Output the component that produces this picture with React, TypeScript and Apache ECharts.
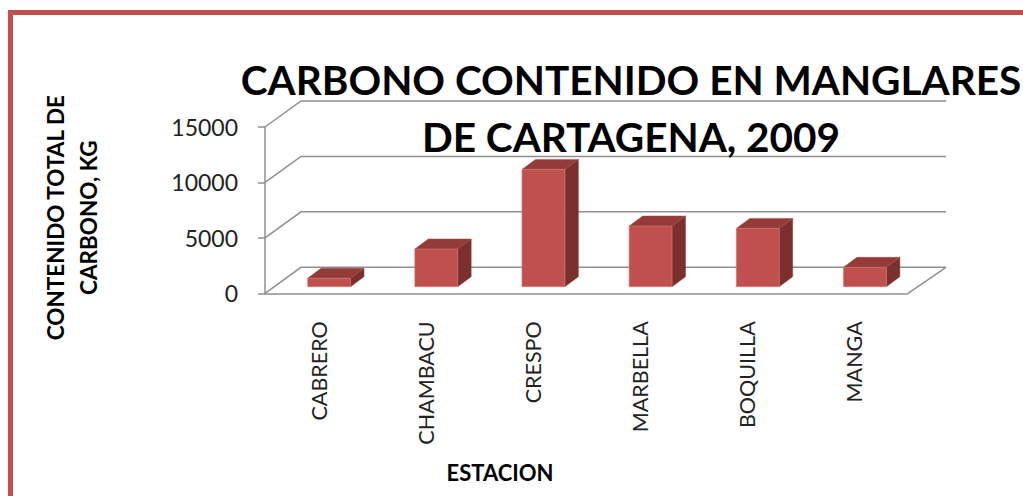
import React, { useEffect, useRef } from "react";
import * as echarts from "echarts";

const CATEGORIES = ["CABRERO", "CHAMBACU", "CRESPO", "MARBELLA", "BOQUILLA", "MANGA"];
const CARBON_KG = [760, 3400, 10580, 5470, 5260, 1750];
const Y_TICKS = [0, 5000, 10000, 15000];
const TITLE = "CARBONO CONTENIDO EN MANGLARES\nDE CARTAGENA, 2009";
const Y_NAME = "CONTENIDO TOTAL DE\nCARBONO, KG";
const X_NAME = "ESTACION";

// 3D look constants (pixels)
const WALL_DX = 36;
const WALL_DY = 26;
const BAR_FRONT_DX = 10.5;
const BAR_FRONT_DY = 6.6;
const BAR_DEPTH_DX = 13.5;
const BAR_DEPTH_DY = 10;
const BAR_RATIO = 0.4;
const GRID_COLOR = "#8f8f8f";

export default function App() {
  const ref = useRef<HTMLDivElement>(null);
  useEffect(() => {
    document.body.style.margin = "0";
    const chart = echarts.init(ref.current!, undefined, { renderer: "svg" });
    const n = CATEGORIES.length;
    chart.setOption({
      animation: false,
      backgroundColor: "#ffffff",
      title: {
        text: TITLE,
        left: 631,
        top: 51,
        padding: 0,
        textAlign: "center",
        textStyle: {
          fontFamily: "Lato",
          fontWeight: "bold",
          fontSize: 40.5,
          lineHeight: 57,
          color: "#000000",
        },
      },
      graphic: [
        {
          type: "rect",
          shape: { x: 10.5, y: 12.5, width: 1200, height: 700 },
          style: { fill: "none", stroke: "#C0504D", lineWidth: 5 },
          silent: true,
        },
      ],
      grid: { left: 265, top: 127, width: 643, height: 166.3 },
      xAxis: {
        type: "category",
        data: CATEGORIES,
        name: X_NAME,
        nameLocation: "middle",
        nameGap: 168,
        nameTextStyle: {
          fontFamily: "Lato",
          fontWeight: "bold",
          fontSize: 22,
          color: "#000000",
          padding: [0, 173, 0, 0],
        },
        axisLine: { lineStyle: { color: GRID_COLOR, width: 1.5 } },
        axisTick: { length: 9, interval: 0, lineStyle: { color: GRID_COLOR, width: 1.5 } },
        axisLabel: {
          rotate: 90,
          margin: 28,
          interval: 0,
          fontFamily: "Lato",
          fontSize: 21.5,
          color: "#222222",
        },
        splitLine: { show: false },
      },
      yAxis: {
        type: "value",
        min: 0,
        max: 15000,
        interval: 5000,
        name: Y_NAME,
        nameLocation: "middle",
        nameRotate: 90,
        nameGap: 160,
        nameTextStyle: {
          fontFamily: "Lato",
          fontWeight: "bold",
          fontSize: 22.5,
          lineHeight: 33,
          color: "#000000",
          padding: [0, 15, 0, 0],
        },
        axisLine: { show: true, lineStyle: { color: GRID_COLOR, width: 1.5 } },
        axisTick: { show: true, length: 7, lineStyle: { color: GRID_COLOR, width: 1.5 } },
        axisLabel: {
          margin: 27,
          fontFamily: "Lato",
          fontSize: 23,
          color: "#222222",
          formatter: (v: number) => String(v),
        },
        splitLine: { show: false },
      },
      series: [
        {
          type: "custom",
          name: "walls",
          silent: true,
          data: Y_TICKS.map((v) => [0, v]),
          renderItem: (params: any, api: any) => {
            const v = api.value(1);
            const bw = api.size([1, 0])[0];
            const p0 = api.coord([0, v]);
            const pN = api.coord([n - 1, v]);
            const left = p0[0] - bw / 2;
            const right = pN[0] + bw / 2;
            const y = p0[1];
            const children: any[] = [
              {
                type: "polyline",
                shape: {
                  points: [
                    [left, y],
                    [left + WALL_DX, y - WALL_DY],
                    [right + WALL_DX + 2, y - WALL_DY],
                  ],
                },
                style: { stroke: GRID_COLOR, lineWidth: 1.5, fill: "none" },
              },
            ];
            if (v === 0) {
              children.push({
                type: "line",
                shape: { x1: right, y1: y, x2: right + WALL_DX + 2, y2: y - WALL_DY },
                style: { stroke: GRID_COLOR, lineWidth: 1.5 },
              });
            }
            return { type: "group", children };
          },
        },
        {
          type: "custom",
          name: "Carbono",
          data: CARBON_KG.map((v, i) => [i, v]),
          renderItem: (params: any, api: any) => {
            const i = api.value(0);
            const v = api.value(1);
            const base = api.coord([i, 0]);
            const top = api.coord([i, v]);
            const bw = api.size([1, 0])[0];
            const w = bw * BAR_RATIO;
            const cx = base[0] + BAR_FRONT_DX;
            const x0 = cx - w / 2;
            const x1 = cx + w / 2;
            const yb = base[1] - BAR_FRONT_DY;
            const yt = top[1] - BAR_FRONT_DY;
            return {
              type: "group",
              children: [
                {
                  type: "polygon",
                  shape: {
                    points: [
                      [x1, yt],
                      [x1 + BAR_DEPTH_DX, yt - BAR_DEPTH_DY],
                      [x1 + BAR_DEPTH_DX, yb - BAR_DEPTH_DY],
                      [x1, yb],
                    ],
                  },
                  style: { fill: "#7B302E", stroke: "#8a3f3d", lineWidth: 0.5 },
                },
                {
                  type: "polygon",
                  shape: {
                    points: [
                      [x0, yt],
                      [x1, yt],
                      [x1 + BAR_DEPTH_DX, yt - BAR_DEPTH_DY],
                      [x0 + BAR_DEPTH_DX, yt - BAR_DEPTH_DY],
                    ],
                  },
                  style: { fill: "#943A38", stroke: "#a04846", lineWidth: 0.5 },
                },
                {
                  type: "rect",
                  shape: { x: x0, y: yt, width: w, height: yb - yt },
                  style: { fill: "#C0504D", stroke: "#cf7a78", lineWidth: 0.6 },
                },
              ],
            };
          },
        },
      ],
    });
    return () => chart.dispose();
  }, []);
  return <div ref={ref} style={{ width: 1023, height: 496 }} />;
}
